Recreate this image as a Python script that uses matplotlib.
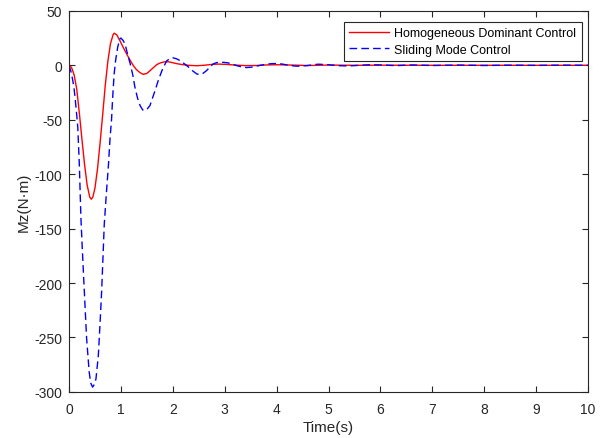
import matplotlib.pyplot as plt

plt.rcParams['font.family'] = ['Liberation Sans', 'DejaVu Sans']
plt.rcParams['axes.unicode_minus'] = False

# time samples and responses
t_hdc = [0, 0.05, 0.1, 0.15, 0.2, 0.25, 0.3, 0.35, 0.4, 0.43, 0.46, 0.5, 0.55, 0.6, 0.65,
         0.7, 0.75, 0.8, 0.85, 0.87, 0.92, 0.98, 1.05, 1.11, 1.18, 1.24, 1.3, 1.37, 1.43,
         1.5, 1.56, 1.63, 1.69, 1.76, 1.84, 1.92, 2.01, 2.1, 2.2, 2.33, 2.46, 2.6, 2.75,
         2.88, 3.04, 3.2, 3.4, 3.6, 3.8, 4.0, 4.3, 4.6, 5.0, 5.5, 6.0, 7.0, 8.0, 9.0, 10.0]
mz_hdc = [0, -2, -9, -22, -44, -68, -91, -110, -121, -123, -121, -113, -95, -71, -45,
          -18, 4, 20, 28, 29.5, 28, 22.7, 16, 10.5, 4.5, -0.3, -4, -6.8, -8.3,
          -7.5, -5, -2, 0.6, 2.2, 3.2, 3.2, 2.2, 1.3, 0.5, -0.1, -0.4, 0, 0.8,
          1.1, 0.8, 0.2, -0.3, -0.2, 0.3, 0.5, 0.2, -0.2, 0.2, 0, 0.1, 0, 0, 0, 0]

t_smc = [0, 0.04, 0.07, 0.1, 0.12, 0.15, 0.17, 0.2, 0.23, 0.26, 0.3, 0.34, 0.39, 0.42,
         0.455, 0.49, 0.52, 0.565, 0.6, 0.63, 0.68, 0.72, 0.76, 0.79, 0.82, 0.84, 0.87,
         0.9, 0.94, 0.98, 1.0, 1.04, 1.08, 1.13, 1.18, 1.23, 1.27, 1.32, 1.37, 1.42, 1.46,
         1.51, 1.56, 1.61, 1.66, 1.72, 1.79, 1.88, 1.95, 2.01, 2.07, 2.14, 2.22, 2.3, 2.38,
         2.46, 2.52, 2.58, 2.65, 2.72, 2.78, 2.85, 2.91, 2.98, 3.07, 3.15, 3.23, 3.32,
         3.42, 3.52, 3.61, 3.71, 3.81, 3.9, 4.0, 4.1, 4.19, 4.28, 4.38, 4.48, 4.58, 4.7,
         4.8, 5.0, 5.2, 5.4, 5.6, 5.8, 6.0, 6.3, 6.6, 7.0, 7.5, 8.0, 8.5, 9.0, 9.5, 10.0]
mz_smc = [0, -6, -13, -22, -31, -46, -57, -92, -140, -172, -212, -251, -282, -292,
          -295.6, -293, -288, -267, -236, -207, -146, -118, -92, -68, -50, -31, -8,
          5, 17, 24, 25, 23, 19.6, 10, 1.3, -9, -20, -30, -37, -41, -41.6,
          -40, -37, -30, -23, -14, -5, 4, 6.3, 6.8, 6, 4.3, 1.5, -1.5, -5,
          -7.9, -8.5, -7.5, -4.9, -1.5, 1.3, 2.5, 2.8, 2.7, 2.2, 1, -0.3, -1.4,
          -2.1, -1.7, -0.8, 0.2, 1, 1.5, 1.6, 1.2, 0.4, -0.3, -0.8, -0.7, -0.3, 0.4,
          1.0, 0.5, -0.4, -0.6, 0, 0.5, 0.3, -0.3, 0.3, -0.2, 0.2, -0.2, 0.1, -0.1, 0.1, 0]

fig = plt.figure(figsize=(6.05, 4.39), dpi=100)
ax = fig.add_axes([0.114, 0.105, 0.858, 0.868])

ax.plot(t_hdc, mz_hdc, color='red', lw=1.0, label='Homogeneous Dominant Control')
ax.plot(t_smc, mz_smc, color='blue', lw=1.0, linestyle=(0, (5.5, 3)),
        label='Sliding Mode Control')

ax.set_xlim(0, 10)
ax.set_ylim(-300, 50)
ax.set_xticks(range(0, 11))
ax.set_yticks(range(-300, 51, 50))
ax.tick_params(direction='in', top=True, right=True, labelsize=10, colors='#262626',
               length=4, width=0.8)
ax.tick_params(axis='x', pad=7)
ax.tick_params(axis='y', pad=5)
for s in ax.spines.values():
    s.set_color('#262626')
    s.set_linewidth(0.8)
ax.set_xlabel('Time(s)', fontsize=11, color='#262626', labelpad=3)
ax.set_ylabel('Mz(N·m)', fontsize=11, color='#262626', labelpad=2)

leg = ax.legend(loc='upper right', bbox_to_anchor=(0.9884, 0.9711), fontsize=9,
                fancybox=False, framealpha=1, edgecolor='#262626', borderpad=0.45,
                handlelength=3.2, handletextpad=0.4, labelspacing=0.35,
                borderaxespad=0)
leg.get_frame().set_linewidth(0.8)

fig.savefig('out.png', dpi=100)
